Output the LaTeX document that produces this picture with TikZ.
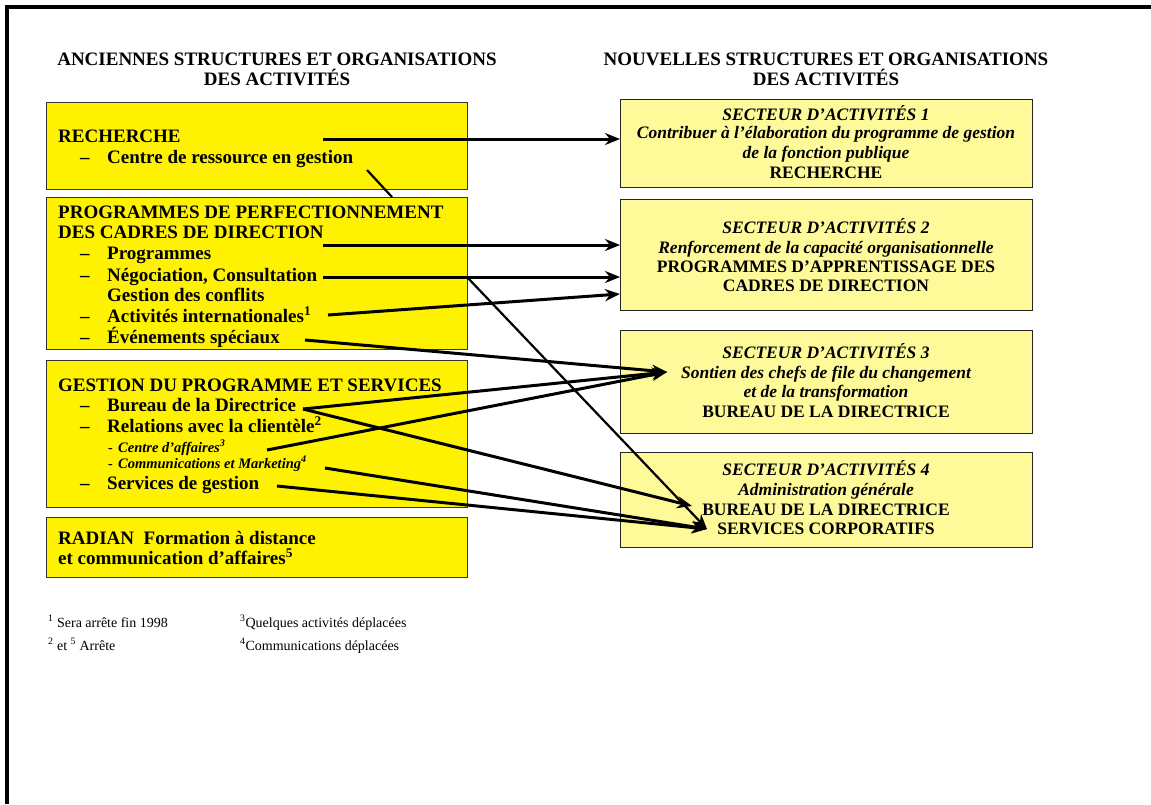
\documentclass[tikz,border=0pt]{standalone}
\usepackage{fontspec}
\setmainfont{Liberation Serif}
\usepackage{tikz}
\usetikzlibrary{arrows.meta}

\newcommand{\bigdash}{\makebox[27pt][l]{–}}
\newcommand{\smalldash}{\makebox[10pt][l]{-}}

\begin{document}
\begin{tikzpicture}[
			x=1pt, y=-1pt,
			oldbox/.style={draw=black!80, line width=1.4pt, fill=yellow, inner sep=0pt, anchor=north west},
			newbox/.style={draw=black!85, line width=1.4pt, fill=yellow!40, inner sep=0pt, anchor=north west},
			headtxt/.style={anchor=base, inner sep=0pt, font=\fontsize{19}{20}\selectfont\bfseries},
			oldtxt/.style={anchor=base west, inner sep=0pt, font=\fontsize{19}{21}\selectfont\bfseries},
			oldsmall/.style={anchor=base west, inner sep=0pt, font=\fontsize{14.5}{16}\selectfont\bfseries\itshape},
			newtxt/.style={anchor=base, inner sep=0pt, font=\fontsize{17.5}{19}\selectfont\bfseries},
			newit/.style={newtxt, font=\fontsize{17.5}{19}\selectfont\bfseries\itshape},
			foot/.style={anchor=base west, inner sep=0pt, font=\fontsize{14}{15}\selectfont},
			link/.style={-{Stealth[length=15pt,width=12pt]}, line width=3pt},
			thinlink/.style={link, line width=2.2pt}
			]
			
			\useasboundingbox (0,0) rectangle (1151,804);
			% frame
			\draw[line width=4pt] (7,804) -- (7,7) -- (1151,7);
			
			% headers
			\node[headtxt] (oldh1) at (277,65) {ANCIENNES STRUCTURES ET ORGANISATIONS};
			\node[headtxt] (oldh2) at (277,85) {DES ACTIVITÉS};
			\node[headtxt] (newh1) at (826,65) {NOUVELLES STRUCTURES ET ORGANISATIONS};
			\node[headtxt] (newh2) at (826,85) {DES ACTIVITÉS};
			
			% old structures
			\node[oldbox, minimum width=421pt, minimum height=87pt] (recherche) at (46,102) {};
			\node[oldbox, minimum width=421pt, minimum height=152pt] (perfect) at (46,197) {};
			\node[oldbox, minimum width=421pt, minimum height=147pt] (gestion) at (46,360) {};
			\node[oldbox, minimum width=421pt, minimum height=60pt] (radian) at (46,517) {};
			
			\node[oldtxt] (rech) at (58,142) {RECHERCHE};
			\node[oldtxt] (crg) at (80,163) {\bigdash Centre de ressource en gestion};
			
			\node[oldtxt] (ppcd1) at (58,218) {PROGRAMMES DE PERFECTIONNEMENT};
			\node[oldtxt] (ppcd2) at (58,238) {DES CADRES DE DIRECTION};
			\node[oldtxt] (prog) at (80,259) {\bigdash Programmes};
			\node[oldtxt] (nego) at (80,281) {\bigdash Négociation, Consultation};
			\node[oldtxt] (conf) at (107,301) {Gestion des conflits};
			\node[oldtxt] (inter) at (80,322) {\bigdash Activités internationales\textsuperscript{1}};
			\node[oldtxt] (even) at (80,343) {\bigdash Événements spéciaux};
			
			\node[oldtxt] (gps) at (58,391) {GESTION DU PROGRAMME ET SERVICES};
			\node[oldtxt] (bur) at (80,411) {\bigdash Bureau de la Directrice};
			\node[oldtxt] (rel) at (80,432) {\bigdash Relations avec la clientèle\textsuperscript{2}};
			\node[oldsmall] (caff) at (108,452) {\smalldash Centre d’affaires\textsuperscript{3}};
			\node[oldsmall] (comm) at (108,468) {\smalldash Communications et Marketing\textsuperscript{4}};
			\node[oldtxt] (serv) at (80,489) {\bigdash Services de gestion};
			
			\node[oldtxt] (rad1) at (58,544) {RADIAN\ \ Formation à distance};
			\node[oldtxt] (rad2) at (58,564) {et communication d’affaires\textsuperscript{5}};
			
			% new structures
			\node[newbox, minimum width=412pt, minimum height=88pt] (secA) at (620,99) {};
			\node[newbox, minimum width=412pt, minimum height=111pt] (secB) at (620,199) {};
			\node[newbox, minimum width=412pt, minimum height=103pt] (secC) at (620,330) {};
			\node[newbox, minimum width=412pt, minimum height=95pt] (secD) at (620,452) {};
			
			\node[newit] (a1) at (826,120) {SECTEUR D’ACTIVITÉS 1};
			\node[newit] (a2) at (826,138) {Contribuer à l’élaboration du programme de gestion};
			\node[newit] (a3) at (826,158) {de la fonction publique};
			\node[newtxt] (a4) at (826,178) {RECHERCHE};
			
			\node[newit] (b1) at (826,233) {SECTEUR D’ACTIVITÉS 2};
			\node[newit] (b2) at (826,253) {Renforcement de la capacité organisationnelle};
			\node[newtxt] (b3) at (826,272) {PROGRAMMES D’APPRENTISSAGE DES};
			\node[newtxt] (b4) at (826,291) {CADRES DE DIRECTION};
			
			\node[newit] (c1) at (826,358) {SECTEUR D’ACTIVITÉS 3};
			\node[newit] (c2) at (826,378) {Sontien des chefs de file du changement};
			\node[newit] (c3) at (826,397) {et de la transformation};
			\node[newtxt] (c4) at (826,417) {BUREAU DE LA DIRECTRICE};
			
			\node[newit] (d1) at (826,475) {SECTEUR D’ACTIVITÉS 4};
			\node[newit] (d2) at (826,495) {Administration générale};
			\node[newtxt] (d3) at (826,515) {BUREAU DE LA DIRECTRICE};
			\node[newtxt] (d4) at (826,534) {SERVICES CORPORATIFS};
			
			% start and end points of the links
			\coordinate (rechS) at (323,139);
			\coordinate (crgS) at (367,170);
			\coordinate (crgE) at (392,197);
			\coordinate (progS) at (323,245);
			\coordinate (negoS) at (323,277);
			\coordinate (negoX) at (467,277);
			\coordinate (interS) at (328,315);
			\coordinate (interE) at (620,294);
			\coordinate (evenS) at (305,340);
			\coordinate (burS) at (303,409);
			\coordinate (caffS) at (267,450);
			\coordinate (commS) at (325,468);
			\coordinate (servS) at (277,486);
			\coordinate (tipC) at (667,372);
			\coordinate (tipD1) at (692,506);
			\coordinate (tipD2) at (707,529);
			
			% links
			\draw[link] (rechS) -- (secA.west |- rechS);
			\draw[line width=2.2pt] (crgS) -- (crgE);
			\draw[link] (progS) -- (secB.west |- progS);
			\draw[link] (negoS) -- (secB.west |- negoS);
			\draw[link] (interS) -- (interE);
			\draw[link] (evenS) -- (tipC);
			\draw[thinlink] (negoX) -- (tipD2);
			\draw[link] (burS) -- (tipC);
			\draw[link] (burS) -- (tipD1);
			\draw[link] (caffS) -- (tipC);
			\draw[link] (commS) -- (tipD2);
			\draw[link] (servS) -- (tipD2);
			
			% footnotes
			\node[foot] (fn1) at (48,627) {\textsuperscript{1} Sera arrête fin 1998};
			\node[foot] (fn2) at (48,650) {\textsuperscript{2} et \textsuperscript{5} Arrête};
			\node[foot] (fn3) at (240,627) {\textsuperscript{3}Quelques activités déplacées};
			\node[foot] (fn4) at (240,650) {\textsuperscript{4}Communications déplacées};
		\end{tikzpicture}
\end{document}
